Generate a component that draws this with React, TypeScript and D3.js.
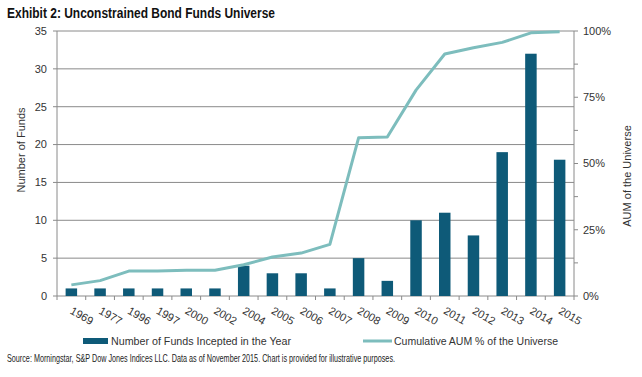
import React from "react";
import * as d3 from "d3";

const years = ["1969","1977","1996","1997","2000","2002","2004","2005","2006","2007","2008","2009","2010","2011","2012","2013","2014","2015"];
const fundCounts = [1,1,1,1,1,1,4,3,3,1,5,2,10,11,8,19,32,18];
const cumulativeAum = [0.042,0.058,0.094,0.094,0.097,0.097,0.118,0.147,0.162,0.195,0.597,0.600,0.777,0.913,0.937,0.957,0.993,0.997];
const leftTicks = [0,5,10,15,20,25,30,35];
const rightTicks = [0,0.25,0.5,0.75,1];
const rightMinor = [0,0.125,0.25,0.375,0.5,0.625,0.75,0.875,1];

const W = 642, H = 377;
const L = 57, R = 574, T = 31, B = 296;
const BAR = "#0e5a78";
const LINE = "#7dbdbd";
const GRID = "#8a8a8a";
const FONT = "'Liberation Sans', Arial, sans-serif";

export default function App() {
  const x = d3.scaleBand<string>().domain(years).range([L, R]).paddingInner(0.6).paddingOuter(0.3);
  const yL = d3.scaleLinear().domain([0, 35]).range([B, T]);
  const yR = d3.scaleLinear().domain([0, 1]).range([B, T]);
  const bw = x.bandwidth();
  const line = d3.line<number>()
    .x((_, i) => (x(years[i]) as number) + bw / 2)
    .y((d) => yR(d));
  const boundaries = d3.range(years.length + 1).map((i) => L + i * ((R - L) / years.length));

  return (
    <svg width={W} height={H} style={{ position: "absolute", left: 0, top: 0, background: "#fff" }} fontFamily={FONT}>
      <rect x={0} y={0} width={W} height={H} fill="#fff" />
      <text x={7} y={18} fontSize={14.5} fontWeight="bold" fill="#111" textLength={268} lengthAdjust="spacingAndGlyphs">
        Exhibit 2: Unconstrained Bond Funds Universe
      </text>

      {/* gridlines */}
      {leftTicks.map((t) => (
        <line key={"g" + t} x1={L} x2={R} y1={yL(t)} y2={yL(t)} stroke={GRID} strokeWidth={1} />
      ))}
      {/* axes */}
      <line x1={L} x2={L} y1={T} y2={B} stroke={GRID} />
      <line x1={R} x2={R} y1={T} y2={B} stroke={GRID} />
      {leftTicks.map((t) => (
        <g key={"lt" + t}>
          <line x1={L - 4} x2={L} y1={yL(t)} y2={yL(t)} stroke={GRID} />
          <text x={47} y={yL(t)} dy="0.35em" fontSize={11} textAnchor="end" fill="#333">{t}</text>
        </g>
      ))}
      {rightMinor.map((t) => (
        <line key={"rm" + t} x1={R} x2={R + 4} y1={yR(t)} y2={yR(t)} stroke={GRID} />
      ))}
      {rightTicks.map((t) => (
        <text key={"rt" + t} x={583} y={yR(t)} dy="0.35em" fontSize={11} fill="#333">{Math.round(t * 100) + "%"}</text>
      ))}
      {boundaries.map((b, i) => (
        <line key={"xt" + i} x1={b} x2={b} y1={B} y2={B + 4} stroke={GRID} />
      ))}

      {/* bars */}
      {fundCounts.map((v, i) => (
        <rect key={"b" + i} x={x(years[i])} y={yL(v)} width={bw} height={B - yL(v)} fill={BAR} />
      ))}
      {/* line */}
      <path d={line(cumulativeAum) || ""} fill="none" stroke={LINE} strokeWidth={3} strokeLinejoin="round" />

      {/* x labels */}
      {years.map((yr) => {
        const cx = (x(yr) as number) + bw / 2 - 2;
        return (
          <text key={"xl" + yr} transform={`translate(${cx},${313}) rotate(30)`} fontSize={11} fill="#333">{yr}</text>
        );
      })}

      {/* axis titles */}
      <text transform="translate(25,150) rotate(-90)" textAnchor="middle" fontSize={11} fill="#333">Number of Funds</text>
      <text transform="translate(631,176) rotate(-90)" textAnchor="middle" fontSize={11} fill="#333">AUM of the Universe</text>

      {/* legend */}
      <rect x={83} y={338} width={25} height={6} fill={BAR} />
      <text x={111} y={345} fontSize={11} fill="#333" textLength={180} lengthAdjust="spacingAndGlyphs">Number of Funds Incepted in the Year</text>
      <line x1={363} x2={392} y1={341} y2={341} stroke={LINE} strokeWidth={3} />
      <text x={394} y={345} fontSize={11} fill="#333" textLength={164} lengthAdjust="spacingAndGlyphs">Cumulative AUM % of the Universe</text>

      {/* source */}
      <text x={7} y={362} fontSize={10.5} fill="#222" textLength={388} lengthAdjust="spacingAndGlyphs">
        Source: Morningstar, S&amp;P Dow Jones Indices LLC.  Data as of November 2015.  Chart is provided for illustrative purposes.
      </text>
    </svg>
  );
}
